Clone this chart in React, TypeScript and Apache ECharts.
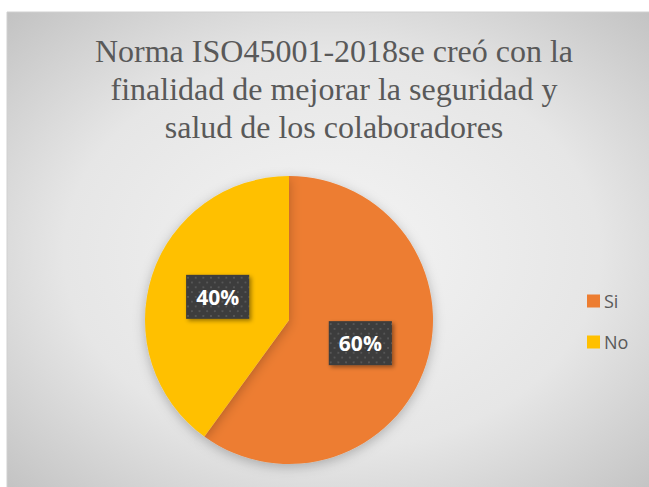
import React, { useEffect, useRef } from "react";
import * as echarts from "echarts";

const categories = ["Si", "No"];
const values = [60, 40];
const colors = ["#ED7D31", "#FFC000"];
const titleLines = [
  "Norma ISO45001-2018se creó con la",
  "finalidad de mejorar la seguridad y",
  "salud de los colaboradores",
];

function makeDots(): string {
  const c = document.createElement("canvas");
  c.width = 66;
  c.height = 46;
  const ctx = c.getContext("2d");
  if (!ctx) return "";
  ctx.fillStyle = "#3c3c3c";
  ctx.fillRect(0, 0, 66, 46);
  ctx.fillStyle = "#575757";
  for (let y = 2, r = 0; y < 46; y += 5, r++) {
    for (let x = (r % 2) * 4 + 1; x < 66; x += 8) {
      ctx.fillRect(x, y, 2, 2);
    }
  }
  return c.toDataURL();
}

export default function App() {
  const ref = useRef<HTMLDivElement>(null);
  useEffect(() => {
    if (!ref.current) return;
    const chart = echarts.init(ref.current, undefined, { renderer: "svg" });
    const dots = makeDots();
    chart.setOption({
      animation: false,
      backgroundColor: "#ffffff",
      graphic: [
        {
          type: "rect",
          z: -10,
          shape: { x: 7, y: 12, width: 650, height: 480 },
          style: {
            fill: new echarts.graphic.RadialGradient(0.5, 0.5, 0.75, [
              { offset: 0, color: "#f4f4f4" },
              { offset: 0.55, color: "#e6e6e6" },
              { offset: 1, color: "#bdbdbd" },
            ]),
            stroke: "#d0d0d0",
            lineWidth: 1,
          },
        },
      ],
      title: {
        text: titleLines.join("\n"),
        left: 329,
        top: 27,
        textAlign: "center",
        textStyle: {
          fontFamily: "'Liberation Serif', 'Times New Roman', serif",
          fontWeight: "normal",
          fontSize: 32,
          lineHeight: 38,
          color: "#595959",
        },
      },
      legend: {
        orient: "vertical",
        left: 582,
        top: 287,
        itemWidth: 13,
        itemHeight: 13,
        itemGap: 23,
        icon: "rect",
        textStyle: {
          fontFamily: "Open Sans",
          fontSize: 18,
          color: "#595959",
          padding: [0, 0, 0, -1],
        },
        data: categories,
      },
      series: [
        {
          type: "pie",
          center: [289, 320],
          radius: 144,
          startAngle: 90,
          clockwise: true,
          color: colors,
          itemStyle: {
            shadowBlur: 12,
            shadowColor: "rgba(0,0,0,0.25)",
            shadowOffsetY: 3,
          },
          label: {
            show: true,
            position: "inside",
            formatter: (p: any) => p.percent.toFixed(0) + "%",
            fontFamily: "Open Sans",
            fontWeight: "bold",
            fontSize: 21,
            color: "#ffffff",
            backgroundColor: dots ? { image: dots } : "#404040",
            padding: [12, 11, 11, 11],
            shadowBlur: 4,
            shadowColor: "rgba(0,0,0,0.4)",
            shadowOffsetX: 2,
            shadowOffsetY: 2,
          },
          labelLine: { show: false },
          emphasis: { disabled: true },
          data: categories.map((c, i) => ({ name: c, value: values[i] })),
        },
      ],
    });
    return () => chart.dispose();
  }, []);
  return (
    <div
      ref={ref}
      style={{ position: "fixed", left: 0, top: 0, width: 649, height: 487 }}
    />
  );
}
